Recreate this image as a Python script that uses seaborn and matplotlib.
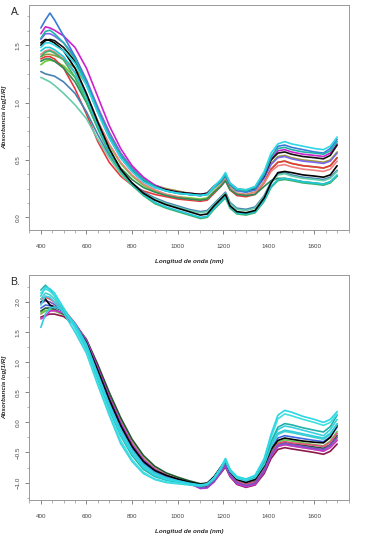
import numpy as np
import pandas as pd
import matplotlib
matplotlib.use('Agg')
import matplotlib.pyplot as plt
from matplotlib.ticker import MultipleLocator
import seaborn as sns

# wavelength grid (nm) shared by every spectrum
wavelength = [400, 420, 440, 460, 500, 550, 600, 650, 700, 750, 800, 850, 900, 950,
              1000, 1050, 1100, 1130, 1160, 1190, 1210, 1230, 1260, 1300, 1340, 1380,
              1410, 1440, 1470, 1500, 1550, 1600, 1640, 1670, 1700]

# --- Panel A spectra ---
specA_magenta = [1.60, 1.66, 1.65, 1.63, 1.58, 1.48, 1.30, 1.05, 0.80, 0.60, 0.45, 0.35, 0.28, 0.24, 0.22, 0.21, 0.20, 0.21, 0.27, 0.32, 0.38, 0.30, 0.25, 0.23, 0.25, 0.36, 0.50, 0.58, 0.59, 0.57, 0.55, 0.54, 0.53, 0.56, 0.64]
specA_red = [1.38, 1.40, 1.40, 1.38, 1.30, 1.12, 0.90, 0.66, 0.48, 0.36, 0.28, 0.23, 0.20, 0.18, 0.16, 0.15, 0.14, 0.15, 0.21, 0.27, 0.32, 0.24, 0.19, 0.18, 0.20, 0.30, 0.42, 0.48, 0.49, 0.47, 0.45, 0.44, 0.43, 0.45, 0.52]
specA_olive = [1.40, 1.42, 1.42, 1.41, 1.38, 1.30, 1.16, 0.95, 0.74, 0.56, 0.43, 0.34, 0.28, 0.25, 0.23, 0.21, 0.20, 0.21, 0.27, 0.32, 0.37, 0.29, 0.25, 0.24, 0.26, 0.35, 0.47, 0.53, 0.54, 0.52, 0.50, 0.49, 0.48, 0.50, 0.57]
specA_green = [1.36, 1.38, 1.38, 1.36, 1.30, 1.18, 1.00, 0.78, 0.58, 0.43, 0.33, 0.26, 0.22, 0.19, 0.17, 0.16, 0.15, 0.16, 0.22, 0.27, 0.32, 0.24, 0.20, 0.19, 0.20, 0.27, 0.32, 0.34, 0.34, 0.33, 0.31, 0.30, 0.29, 0.31, 0.36]
specA_purple = [1.55, 1.60, 1.60, 1.58, 1.52, 1.40, 1.20, 0.96, 0.74, 0.56, 0.43, 0.34, 0.28, 0.24, 0.22, 0.20, 0.19, 0.20, 0.26, 0.31, 0.36, 0.28, 0.23, 0.22, 0.24, 0.34, 0.46, 0.52, 0.53, 0.51, 0.49, 0.48, 0.47, 0.49, 0.56]
specA_pink = [1.42, 1.45, 1.46, 1.44, 1.38, 1.26, 1.07, 0.84, 0.64, 0.48, 0.37, 0.29, 0.24, 0.20, 0.18, 0.16, 0.15, 0.16, 0.22, 0.28, 0.33, 0.25, 0.21, 0.20, 0.22, 0.30, 0.40, 0.45, 0.46, 0.44, 0.42, 0.41, 0.40, 0.42, 0.49]
specA_lime = [1.33, 1.36, 1.37, 1.36, 1.32, 1.22, 1.05, 0.83, 0.63, 0.47, 0.36, 0.28, 0.23, 0.20, 0.18, 0.17, 0.16, 0.17, 0.23, 0.29, 0.34, 0.26, 0.21, 0.20, 0.22, 0.31, 0.42, 0.48, 0.49, 0.47, 0.45, 0.44, 0.43, 0.45, 0.52]
specA_black = [1.50, 1.54, 1.55, 1.54, 1.48, 1.36, 1.16, 0.92, 0.70, 0.53, 0.41, 0.32, 0.27, 0.24, 0.22, 0.21, 0.20, 0.21, 0.27, 0.32, 0.37, 0.29, 0.24, 0.23, 0.25, 0.36, 0.50, 0.56, 0.57, 0.55, 0.53, 0.52, 0.51, 0.54, 0.63]
specA_black_low = [1.52, 1.55, 1.54, 1.52, 1.45, 1.30, 1.08, 0.83, 0.60, 0.42, 0.30, 0.21, 0.15, 0.11, 0.08, 0.05, 0.02, 0.03, 0.10, 0.16, 0.20, 0.10, 0.05, 0.04, 0.06, 0.17, 0.30, 0.39, 0.40, 0.39, 0.37, 0.36, 0.35, 0.37, 0.45]
specA_steel = [1.27, 1.25, 1.24, 1.23, 1.18, 1.08, 0.92, 0.72, 0.54, 0.40, 0.30, 0.22, 0.17, 0.13, 0.10, 0.07, 0.05, 0.06, 0.12, 0.18, 0.22, 0.13, 0.08, 0.07, 0.09, 0.19, 0.31, 0.38, 0.39, 0.37, 0.35, 0.34, 0.33, 0.35, 0.41]
specA_teal_low = [1.22, 1.20, 1.18, 1.15, 1.08, 0.98, 0.86, 0.68, 0.52, 0.38, 0.28, 0.21, 0.16, 0.12, 0.09, 0.06, 0.04, 0.05, 0.11, 0.17, 0.21, 0.12, 0.07, 0.06, 0.08, 0.18, 0.30, 0.37, 0.38, 0.36, 0.34, 0.33, 0.32, 0.34, 0.40]
specA_cyan_low = [1.45, 1.48, 1.48, 1.46, 1.40, 1.26, 1.05, 0.80, 0.58, 0.41, 0.29, 0.20, 0.13, 0.09, 0.06, 0.03, 0.00, 0.01, 0.08, 0.14, 0.18, 0.09, 0.04, 0.03, 0.05, 0.15, 0.27, 0.33, 0.34, 0.33, 0.31, 0.30, 0.29, 0.31, 0.37]
specA_seagreen = [1.40, 1.44, 1.45, 1.43, 1.37, 1.22, 1.01, 0.77, 0.56, 0.40, 0.28, 0.19, 0.12, 0.08, 0.05, 0.02, -0.01, 0.00, 0.07, 0.13, 0.17, 0.08, 0.03, 0.02, 0.04, 0.14, 0.26, 0.32, 0.33, 0.32, 0.30, 0.29, 0.28, 0.30, 0.36]
specA_blue = [1.65, 1.72, 1.78, 1.72, 1.58, 1.40, 1.18, 0.93, 0.70, 0.52, 0.40, 0.31, 0.26, 0.23, 0.21, 0.20, 0.19, 0.20, 0.26, 0.31, 0.37, 0.29, 0.24, 0.22, 0.24, 0.37, 0.52, 0.62, 0.63, 0.61, 0.59, 0.57, 0.56, 0.60, 0.68]
specA_cyan = [1.48, 1.52, 1.52, 1.50, 1.45, 1.34, 1.15, 0.91, 0.69, 0.52, 0.40, 0.31, 0.26, 0.23, 0.21, 0.20, 0.19, 0.20, 0.27, 0.33, 0.39, 0.30, 0.25, 0.24, 0.27, 0.40, 0.56, 0.64, 0.66, 0.64, 0.62, 0.60, 0.59, 0.62, 0.70]
specA_turq = [1.56, 1.62, 1.63, 1.60, 1.52, 1.38, 1.17, 0.93, 0.71, 0.54, 0.42, 0.33, 0.27, 0.23, 0.21, 0.20, 0.19, 0.20, 0.26, 0.32, 0.37, 0.29, 0.24, 0.23, 0.26, 0.38, 0.53, 0.60, 0.61, 0.59, 0.57, 0.56, 0.55, 0.58, 0.66]

# --- Panel B spectra ---
specB_darkgreen = [1.85, 1.90, 1.90, 1.88, 1.80, 1.63, 1.38, 0.96, 0.50, 0.08, -0.28, -0.55, -0.73, -0.84, -0.91, -0.97, -1.02, -1.01, -0.92, -0.78, -0.68, -0.85, -0.98, -1.03, -0.98, -0.76, -0.50, -0.36, -0.33, -0.35, -0.38, -0.41, -0.43, -0.37, -0.22]
specB_darkred = [1.75, 1.78, 1.80, 1.80, 1.76, 1.62, 1.36, 0.92, 0.42, -0.02, -0.38, -0.64, -0.80, -0.90, -0.96, -1.02, -1.08, -1.07, -0.98, -0.84, -0.74, -0.90, -1.03, -1.08, -1.04, -0.85, -0.60, -0.45, -0.42, -0.44, -0.47, -0.50, -0.53, -0.48, -0.36]
specB_red = [2.05, 2.08, 2.05, 2.00, 1.88, 1.65, 1.35, 0.88, 0.40, -0.02, -0.38, -0.63, -0.79, -0.89, -0.95, -1.00, -1.05, -1.04, -0.95, -0.80, -0.70, -0.86, -0.98, -1.03, -0.99, -0.78, -0.52, -0.35, -0.32, -0.34, -0.36, -0.38, -0.40, -0.33, -0.18]
specB_olive = [1.80, 1.85, 1.86, 1.85, 1.79, 1.63, 1.37, 0.93, 0.46, 0.05, -0.32, -0.59, -0.76, -0.87, -0.94, -1.00, -1.06, -1.05, -0.97, -0.83, -0.73, -0.88, -1.00, -1.05, -1.01, -0.80, -0.55, -0.40, -0.37, -0.39, -0.42, -0.45, -0.47, -0.40, -0.28]
specB_green = [1.82, 1.86, 1.87, 1.86, 1.80, 1.61, 1.32, 0.85, 0.37, -0.05, -0.41, -0.67, -0.82, -0.91, -0.97, -1.02, -1.07, -1.06, -0.96, -0.80, -0.69, -0.86, -0.99, -1.04, -1.00, -0.78, -0.50, -0.33, -0.29, -0.31, -0.34, -0.37, -0.39, -0.31, -0.15]
specB_purple = [1.98, 2.02, 2.00, 1.96, 1.86, 1.64, 1.34, 0.88, 0.40, -0.03, -0.39, -0.64, -0.80, -0.89, -0.95, -1.01, -1.09, -1.08, -0.98, -0.82, -0.70, -0.87, -1.00, -1.05, -1.01, -0.80, -0.54, -0.38, -0.35, -0.37, -0.40, -0.43, -0.45, -0.38, -0.25]
specB_blue = [1.90, 1.95, 1.94, 1.92, 1.84, 1.62, 1.30, 0.82, 0.34, -0.08, -0.43, -0.68, -0.83, -0.92, -0.97, -1.01, -1.04, -1.02, -0.92, -0.76, -0.64, -0.82, -0.94, -0.98, -0.94, -0.72, -0.44, -0.26, -0.22, -0.24, -0.27, -0.30, -0.32, -0.24, -0.08]
specB_black = [2.00, 2.05, 1.95, 1.92, 1.85, 1.62, 1.32, 0.86, 0.38, -0.05, -0.40, -0.65, -0.80, -0.88, -0.94, -0.99, -1.03, -1.01, -0.90, -0.74, -0.63, -0.82, -0.95, -1.00, -0.95, -0.72, -0.45, -0.30, -0.26, -0.28, -0.31, -0.33, -0.34, -0.25, -0.05]
specB_magenta = [1.72, 1.76, 1.85, 1.86, 1.82, 1.64, 1.36, 0.90, 0.42, 0.00, -0.36, -0.62, -0.78, -0.88, -0.95, -1.01, -1.10, -1.09, -0.99, -0.83, -0.72, -0.89, -1.02, -1.07, -1.03, -0.82, -0.56, -0.40, -0.37, -0.39, -0.42, -0.45, -0.48, -0.42, -0.30]
specB_cyan_start = [1.58, 1.80, 1.90, 1.92, 1.86, 1.64, 1.30, 0.80, 0.30, -0.12, -0.46, -0.70, -0.84, -0.92, -0.97, -1.01, -1.04, -1.02, -0.92, -0.76, -0.63, -0.80, -0.92, -0.96, -0.91, -0.68, -0.38, -0.18, -0.13, -0.15, -0.19, -0.23, -0.26, -0.18, -0.02]
specB_cyan_early = [1.95, 2.10, 2.08, 2.00, 1.82, 1.50, 1.15, 0.62, 0.12, -0.35, -0.65, -0.85, -0.95, -1.00, -1.02, -1.04, -1.06, -1.04, -0.94, -0.78, -0.62, -0.80, -0.92, -0.96, -0.90, -0.66, -0.35, -0.12, -0.06, -0.08, -0.13, -0.18, -0.22, -0.12, 0.05]
specB_teal = [2.20, 2.28, 2.20, 2.10, 1.88, 1.58, 1.22, 0.72, 0.22, -0.22, -0.55, -0.78, -0.90, -0.96, -1.00, -1.03, -1.06, -1.04, -0.93, -0.77, -0.62, -0.79, -0.91, -0.95, -0.90, -0.65, -0.32, -0.08, -0.02, -0.04, -0.09, -0.13, -0.16, -0.07, 0.12]
specB_cyan_top = [2.10, 2.25, 2.22, 2.15, 1.90, 1.60, 1.25, 0.75, 0.25, -0.20, -0.52, -0.75, -0.88, -0.95, -0.98, -1.02, -1.05, -1.03, -0.92, -0.75, -0.60, -0.78, -0.90, -0.94, -0.88, -0.60, -0.20, 0.12, 0.20, 0.17, 0.10, 0.05, 0.00, 0.05, 0.18]
specB_cyan_top2 = [2.15, 2.22, 2.18, 2.10, 1.89, 1.56, 1.18, 0.66, 0.16, -0.30, -0.62, -0.83, -0.94, -0.99, -1.01, -1.03, -1.05, -1.03, -0.93, -0.76, -0.61, -0.79, -0.91, -0.95, -0.89, -0.62, -0.25, 0.06, 0.14, 0.11, 0.05, 0.00, -0.05, 0.00, 0.14]
specB_aqua = [2.05, 2.15, 2.12, 2.05, 1.86, 1.59, 1.25, 0.76, 0.27, -0.17, -0.50, -0.73, -0.87, -0.94, -0.99, -1.02, -1.05, -1.03, -0.93, -0.77, -0.64, -0.81, -0.93, -0.97, -0.92, -0.70, -0.40, -0.20, -0.15, -0.17, -0.21, -0.25, -0.28, -0.20, -0.03]

curves_A = [specA_lime, specA_olive, specA_red, specA_pink, specA_green, specA_purple,
            specA_magenta, specA_steel, specA_teal_low, specA_black, specA_blue,
            specA_turq, specA_seagreen, specA_cyan_low, specA_black_low, specA_cyan]
colors_A = ['#66CC33', '#999933', '#E8383D', '#F08080', '#2E8B57', '#7B68EE',
            '#CC22CC', '#4682B4', '#66CDAA', '#111111', '#3A7BD5',
            '#20B2AA', '#3CB371', '#22C7D8', '#000000', '#2ED6E6']

curves_B = [specB_olive, specB_green, specB_darkgreen, specB_darkred, specB_red,
            specB_magenta, specB_purple, specB_blue, specB_black, specB_aqua,
            specB_cyan_start, specB_cyan_early, specB_teal, specB_cyan_top2, specB_cyan_top]
colors_B = ['#B8A060', '#66CC55', '#1E5631', '#8B1A4A', '#E8507A',
            '#CC33CC', '#7B52C8', '#4169E1', '#000000', '#48D1CC',
            '#33CCDD', '#3BD0E0', '#20B2AA', '#40E0E0', '#2ED6E6']


def long_table(curves):
    rows = []
    for i, c in enumerate(curves):
        for w, v in zip(wavelength, c):
            rows.append((i, w, v))
    return pd.DataFrame(rows, columns=['id', 'wl', 'abs'])


sns.set_style('white')
plt.rcParams['font.family'] = ['Liberation Sans', 'DejaVu Sans']

fig = plt.figure(figsize=(3.66, 5.38), dpi=100)
axA = fig.add_axes([29 / 366, 1 - 230 / 538, 320 / 366, 225 / 538])
axB = fig.add_axes([29 / 366, 1 - 500 / 538, 320 / 366, 225 / 538])

panels = [(axA, curves_A, colors_A, (-0.11, 1.85), 0.5, 0.125, 'A.'),
          (axB, curves_B, colors_B, (-1.29, 2.45), 0.5, 0.25, 'B.')]

for ax, curves, cols, ylim, ymaj, ymin, tag in panels:
    df = long_table(curves)
    sns.lineplot(data=df, x='wl', y='abs', hue='id', palette=cols, units='id',
                 estimator=None, sort=False, legend=False, linewidth=1.2, ax=ax)
    ax.set_xlim(348, 1752)
    ax.set_ylim(*ylim)
    ax.xaxis.set_minor_locator(MultipleLocator(50))
    ax.yaxis.set_major_locator(MultipleLocator(ymaj))
    ax.yaxis.set_minor_locator(MultipleLocator(ymin))
    ax.set_xticks([400, 600, 800, 1000, 1200, 1400, 1600])
    ax.tick_params(axis='x', which='major', length=3, width=0.5, color='#555555',
                   labelsize=4.5, labelcolor='#444444', pad=7, bottom=True)
    ax.tick_params(axis='y', which='major', length=3, width=0.5, color='#555555',
                   labelsize=4.5, labelcolor='#444444', pad=3, left=True)
    ax.tick_params(which='minor', length=1.8, width=0.4, color='#777777',
                   bottom=True, left=True)
    for lab in ax.get_yticklabels():
        lab.set_rotation(90)
        lab.set_va('center')
    for s in ax.spines.values():
        s.set_color('#999999')
        s.set_linewidth(0.7)
    ax.set_xlabel('Longitud de onda (nm)', fontsize=4.5, fontweight='bold',
                  fontstyle='italic', labelpad=7)
    ax.set_ylabel('Absorbancia log[1/R]', fontsize=4.5, fontweight='bold',
                  fontstyle='italic', labelpad=6)
    ax.text(-0.027, 0.97, tag, transform=ax.transAxes, fontsize=7.5,
            ha='right', va='center')

fig.savefig('out.png', dpi=100)
